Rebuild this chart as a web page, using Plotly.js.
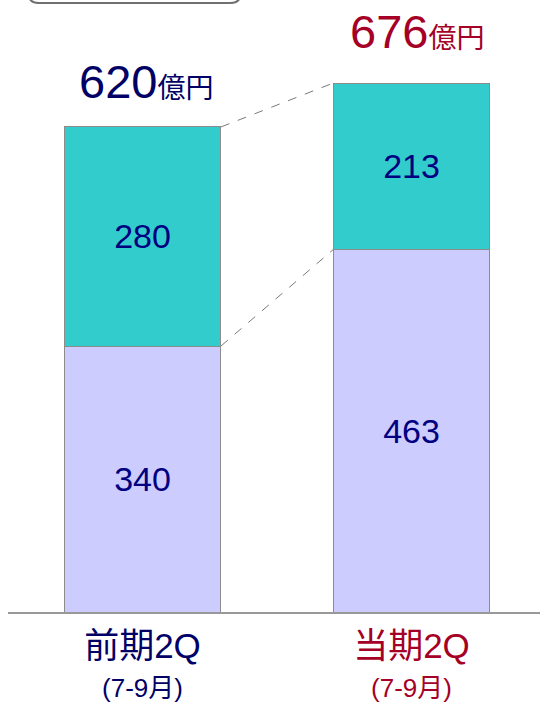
<!DOCTYPE html>
<html>
<head>
<meta charset="utf-8">
<script src="https://cdn.plot.ly/plotly-3.0.1.min.js"></script>
<style>html,body{margin:0;padding:0;background:#fff;}#chart{width:540px;height:704px;}</style>
</head>
<body>
<div id="chart"></div>
<script>
const categories = ["前期2Q", "当期2Q"];
const subLabels = ["(7-9月)", "(7-9月)"];
const lowerValues = [340, 463];
const upperValues = [280, 213];
const totals = [620, 676];
const unit = "億円";
const labelColors = ["#000066", "#A50026"];

const FONT = "Liberation Sans, Arial, Noto Sans CJK JP, sans-serif";
const xPos = categories.map((_, i) => i);
const barWidth = 0.5836;

const traceLower = {
  type: "bar", x: xPos, y: lowerValues, width: barWidth,
  marker: {color: "#CCCCFF", line: {color: "#8C8C8C", width: 1}},
  text: lowerValues.map(String), textposition: "inside", insidetextanchor: "middle",
  textfont: {family: FONT, size: 34, color: "#000080"},
  hoverinfo: "skip", cliponaxis: false
};
const traceUpper = {
  type: "bar", x: xPos, y: upperValues, width: barWidth,
  marker: {color: "#33CCCC", line: {color: "#8C8C8C", width: 1}},
  text: upperValues.map(String), textposition: "inside", insidetextanchor: "middle",
  textfont: {family: FONT, size: 34, color: "#000080"},
  hoverinfo: "skip", cliponaxis: false
};

const half = barWidth / 2;
const shapes = [
  {type: "line", xref: "x", yref: "y", x0: xPos[0] + half, y0: totals[0], x1: xPos[1] - half, y1: totals[1],
   line: {color: "#7a7a7a", width: 1, dash: "dash"}},
  {type: "line", xref: "x", yref: "y", x0: xPos[0] + half, y0: lowerValues[0], x1: xPos[1] - half, y1: lowerValues[1],
   line: {color: "#7a7a7a", width: 1, dash: "dash"}},
  {type: "path", xref: "paper", yref: "paper",
   path: "M 0.0395 1.06 L 0.0395 1.025 Q 0.0395 1.0116 0.058 1.0116 L 0.418 1.0116 Q 0.4362 1.0116 0.4362 1.025 L 0.4362 1.06 Z",
   fillcolor: "#ffffff", line: {color: "#707070", width: 2}}
];

const yShifts = [17, 23];
const annotations = totals.map((t, i) => ({
  x: xPos[i], y: t, xref: "x", yref: "y", xanchor: "center", yanchor: "bottom",
  xshift: i === 0 ? 3 : 5, yshift: yShifts[i], showarrow: false,
  text: t + "<span style='font-size:28px'>" + unit + "</span>",
  font: {family: FONT, size: 47, color: labelColors[i]}
}));

const ticktext = categories.map((c, i) =>
  "<span style='color:" + labelColors[i] + ";font-size:35px'>" + c + "</span><br><span style='color:" + labelColors[i] + ";font-size:26px'>" + subLabels[i] + "</span>");

const layout = {
  width: 540, height: 704,
  margin: {l: 8, r: 0, t: 10, b: 92},
  paper_bgcolor: "#ffffff", plot_bgcolor: "#ffffff",
  barmode: "stack", showlegend: false,
  font: {family: FONT},
  xaxis: {
    range: [-0.5, 1.4777], tickvals: xPos, ticktext: ticktext,
    tickfont: {family: FONT, size: 30, color: "#000066"},
    ticklabelstandoff: 8,
    showline: true, linecolor: "#999999", linewidth: 1.5,
    showgrid: false, zeroline: false, ticks: "", fixedrange: true
  },
  yaxis: {range: [0, 769.5], visible: false, showgrid: false, zeroline: false, fixedrange: true},
  shapes: shapes, annotations: annotations
};

Plotly.newPlot("chart", [traceLower, traceUpper], layout, {displayModeBar: false, staticPlot: true});
</script>
</body>
</html>
